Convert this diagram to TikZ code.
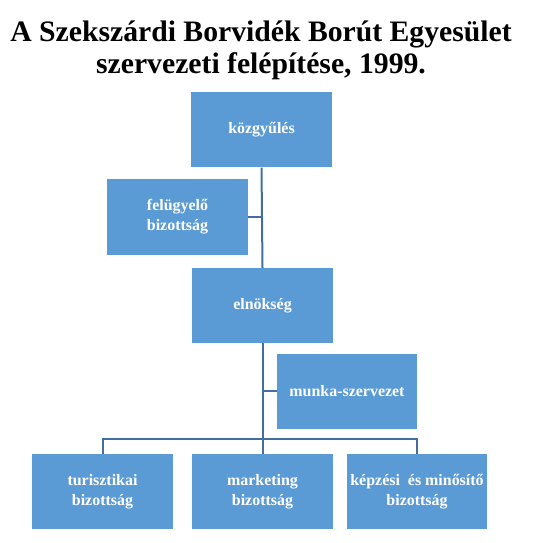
\documentclass[tikz,border=0pt]{standalone}
\usepackage{fontspec}
\setmainfont{Liberation Serif}
\definecolor{boxblue}{RGB}{91,155,213}
\definecolor{lineblue}{RGB}{68,110,160}

\begin{document}
\begin{tikzpicture}[x=1bp, y=-1bp,
		unit/.style={fill=boxblue, text=white, font=\fontsize{16}{20}\selectfont\bfseries, align=center, minimum width=141bp, minimum height=75bp, inner sep=0pt},
		conn/.style={draw=lineblue, line width=2bp}]

				\useasboundingbox (0,0) rectangle (558,543);

				\node [font=\fontsize{29.8}{32.5}\selectfont\bfseries, align=center, anchor=base] (title) at (261, 73.5) {A Szekszárdi Borvidék Borút Egyesület\\szervezeti felépítése, 1999.};

				\node [unit] (K) at (261.5, 130) {közgyűlés};
				\node [unit] (F) at (177.5, 217) {felügyelő\\bizottság};
				\node [unit] (E) at (262.5, 305.5) {elnökség};
				\node [unit, minimum width=140bp] (M) at (347, 391) {munka-szervezet};

				%------
				\node [unit] (T) at (102.5, 491.5) {turisztikai\\bizottság};
				\node [unit] (Mk) at (262.5, 491.5) {marketing\\bizottság};
				\node [unit, minimum width=140bp] (Kp) at (417, 491.5) {képzési~ és minősítő\\bizottság};

				\coordinate (bus) at (262.5, 439);

				\draw [conn] (K.south) -- (E.north);
				\draw [conn] (F.east) -- (F.east -| K.south);
				\draw [conn] (E.south) -- (Mk.north);
				\draw [conn] (M.west) -- (M.west -| E.south);
				\draw [conn] (T.north) |- (bus) -| (Kp.north);
		\end{tikzpicture}
\end{document}
